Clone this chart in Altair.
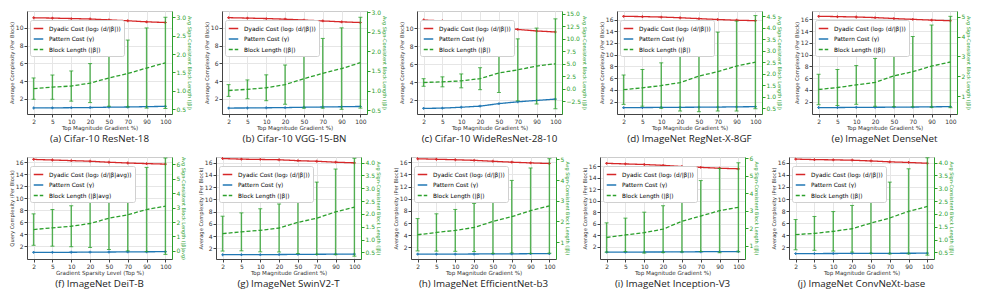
import altair as alt
import pandas as pd

X_LABELS = ["2", "5", "10", "20", "50", "70", "90", "100"]

CAPTIONS = [
    "(a) Cifar-10 ResNet-18", "(b) Cifar-10 VGG-15-BN", "(c) Cifar-10 WideResNet-28-10",
    "(d) ImageNet RegNet-X-8GF", "(e) ImageNet DenseNet", "(f) ImageNet DeiT-B",
    "(g) ImageNet SwinV2-T", "(h) ImageNet EfficientNet-b3", "(i) ImageNet Inception-V3",
    "(j) ImageNet ConvNeXt-base",
]

DYADIC = [
    [11.14, 11.10, 11.05, 11.00, 10.90, 10.80, 10.68, 10.60],
    [11.15, 11.10, 11.05, 10.98, 10.88, 10.78, 10.68, 10.60],
    [10.90, 10.80, 10.66, 10.42, 10.07, 9.86, 9.69, 9.58],
    [16.54, 16.50, 16.42, 16.30, 16.15, 16.00, 15.88, 15.80],
    [16.50, 16.45, 16.38, 16.28, 16.12, 15.98, 15.85, 15.75],
    [16.45, 16.35, 16.25, 16.15, 15.98, 15.85, 15.75, 15.67],
    [16.65, 16.55, 16.50, 16.45, 16.30, 16.20, 16.05, 15.95],
    [16.56, 16.48, 16.40, 16.30, 16.15, 16.00, 15.88, 15.78],
    [16.50, 16.40, 16.30, 16.15, 15.95, 15.80, 15.65, 15.55],
    [16.60, 16.52, 16.48, 16.42, 16.30, 16.15, 16.05, 15.92],
]

PATTERN = [
    [0.97, 0.98, 1.00, 1.02, 1.06, 1.08, 1.12, 1.15],
    [0.97, 0.98, 1.00, 1.02, 1.06, 1.09, 1.12, 1.15],
    [1.12, 1.15, 1.25, 1.37, 1.65, 1.85, 2.00, 2.15],
    [0.98, 1.00, 1.02, 1.04, 1.06, 1.08, 1.12, 1.15],
    [1.00, 1.00, 1.02, 1.04, 1.06, 1.08, 1.12, 1.15],
    [1.00, 1.00, 1.02, 1.04, 1.06, 1.08, 1.10, 1.12],
    [0.95, 0.96, 0.97, 0.98, 1.00, 1.02, 1.04, 1.05],
    [0.90, 0.90, 0.91, 0.92, 0.94, 0.95, 0.97, 0.98],
    [1.10, 1.10, 1.11, 1.12, 1.14, 1.16, 1.18, 1.20],
    [1.00, 1.00, 1.01, 1.02, 1.03, 1.04, 1.05, 1.06],
]

BLOCK = [
    [1.06, 1.10, 1.13, 1.21, 1.35, 1.47, 1.62, 1.76],
    [1.00, 1.03, 1.07, 1.15, 1.30, 1.44, 1.56, 1.71],
    [1.26, 1.39, 1.58, 2.02, 3.16, 3.79, 4.55, 5.00],
    [1.30, 1.38, 1.48, 1.61, 1.89, 2.09, 2.33, 2.50],
    [1.33, 1.43, 1.56, 1.69, 2.02, 2.23, 2.51, 2.72],
    [1.48, 1.60, 1.71, 1.90, 2.27, 2.50, 2.87, 3.10],
    [1.23, 1.30, 1.36, 1.45, 1.67, 1.83, 2.08, 2.26],
    [1.36, 1.47, 1.57, 1.71, 2.00, 2.23, 2.52, 2.75],
    [1.46, 1.61, 1.74, 1.94, 2.39, 2.69, 3.00, 3.19],
    [1.19, 1.24, 1.32, 1.42, 1.64, 1.84, 2.10, 2.29],
]

BLOCK_ERR = [
    [0.29, 0.33, 0.41, 0.53, 0.77, 0.91, 1.09, 1.24],
    [0.15, 0.24, 0.33, 0.50, 0.75, 0.89, 1.04, 1.16],
    [0.76, 1.00, 1.39, 2.20, 3.90, 6.20, 7.60, 9.00],
    [0.64, 0.80, 0.99, 1.24, 1.55, 1.72, 1.96, 2.03],
    [0.77, 0.91, 0.98, 1.21, 1.56, 1.78, 2.08, 2.31],
    [1.09, 1.27, 1.42, 1.66, 2.17, 2.50, 2.92, 3.34],
    [0.68, 0.74, 0.84, 0.94, 1.22, 1.41, 1.67, 1.91],
    [0.78, 0.90, 1.01, 1.16, 1.54, 1.75, 2.06, 2.28],
    [0.84, 0.96, 1.17, 1.34, 1.76, 2.03, 2.41, 2.55],
    [0.59, 0.66, 0.77, 0.91, 1.18, 1.40, 1.66, 1.90],
]

LEFT_DOMAIN = [
    [0.29, 11.9], [0.3, 11.9], [0.5, 11.9], [-0.1, 17.45], [-0.1, 17.4],
    [-0.1, 16.85], [0.25, 16.9], [0.1, 16.85], [-0.1, 17.6], [0.1, 16.95],
]
RIGHT_DOMAIN = [
    [0.37, 3.17], [0.40, 3.03], [-5.05, 15.57], [0.24, 4.73], [0.09, 5.30],
    [-0.56, 6.51], [0.24, 4.22], [0.19, 5.11], [0.23, 6.07], [0.24, 4.22],
]
LEFT_TICKS_CIFAR = [2, 4, 6, 8, 10]
LEFT_TICKS_IMAGENET = [2, 4, 6, 8, 10, 12, 14, 16]
RIGHT_TICKS = [
    [0.5, 1.0, 1.5, 2.0, 2.5, 3.0],
    [0.5, 1.0, 1.5, 2.0, 2.5, 3.0],
    [-2.5, 0.0, 2.5, 5.0, 7.5, 10.0, 12.5, 15.0],
    [0.5, 1.0, 1.5, 2.0, 2.5, 3.0, 3.5, 4.0, 4.5],
    [1, 2, 3, 4, 5],
    [0, 1, 2, 3, 4, 5, 6],
    [0.5, 1.0, 1.5, 2.0, 2.5, 3.0, 3.5, 4.0],
    [1, 2, 3, 4, 5],
    [1, 2, 3, 4, 5, 6],
    [0.5, 1.0, 1.5, 2.0, 2.5, 3.0, 3.5, 4.0],
]
RIGHT_FMT = [".1f", ".1f", ".1f", ".1f", "d", "d", ".1f", "d", "d", ".1f"]

X_TITLE = "Top Magnitude Gradient %)"
X_TITLE_F = "Gradient Sparsity Level (Top %)"
LEFT_TITLE = "Average Complexity (Per Block)"
LEFT_TITLE_F = "Query Complexity (Per Block)"
RIGHT_TITLE = "Avg Sign-Consistent Block Length (|β|)"
RIGHT_TITLE_F = "Avg Sign-Consistent Block Length (|β|avg)"
SERIES = ["Dyadic Cost (log₂ (d/|β|))", "Pattern Cost (γ)", "Block Length (|β|)"]
SERIES_F = ["Dyadic Cost (log₂ (d/|β|avg))", "Pattern Cost (γ)", "Block Length (|β|avg)"]

RED, BLUE, GREEN = "#d62728", "#1f77b4", "#2ca02c"
FONT = "DejaVu Sans"


def panel(i, height):
    names = SERIES_F if i == 5 else SERIES
    rows = []
    for j, xl in enumerate(X_LABELS):
        rows.append({"x": xl, "series": names[0], "v": DYADIC[i][j], "lo": None, "hi": None})
        rows.append({"x": xl, "series": names[1], "v": PATTERN[i][j], "lo": None, "hi": None})
        rows.append({"x": xl, "series": names[2], "v": BLOCK[i][j],
                     "lo": BLOCK[i][j] - BLOCK_ERR[i][j], "hi": BLOCK[i][j] + BLOCK_ERR[i][j]})
    df = pd.DataFrame(rows)

    xenc = alt.X("x:N", sort=X_LABELS,
                 scale=alt.Scale(type="point", padding=0.35),
                 axis=alt.Axis(title=X_TITLE_F if i == 5 else X_TITLE, labelAngle=0,
                               grid=True, gridColor="#e6e6e6", tickSize=3,
                               domainColor="#444", tickColor="#444", labelPadding=1,
                               titlePadding=1))
    leg = alt.Legend(title=None, orient="none", legendX=3, legendY=9,
                     symbolType="stroke", symbolSize=90, symbolStrokeWidth=1.3,
                     labelFontSize=5.8, labelFont=FONT, labelLimit=300, rowPadding=1.5,
                     padding=3, fillColor="white", strokeColor="#d0d0d0",
                     cornerRadius=2, labelOffset=5)
    color = alt.Color("series:N", scale=alt.Scale(domain=names, range=[RED, BLUE, GREEN]), legend=leg)
    dash = alt.StrokeDash("series:N", scale=alt.Scale(domain=names, range=[[1, 0], [1, 0], [4, 2]]), legend=leg)

    lticks = LEFT_TICKS_CIFAR if i < 3 else LEFT_TICKS_IMAGENET
    lscale = alt.Scale(domain=LEFT_DOMAIN[i], nice=False, zero=False)
    laxis = alt.Axis(orient="left", values=lticks, title=LEFT_TITLE_F if i == 5 else LEFT_TITLE,
                     grid=True, gridColor="#e6e6e6", tickSize=3, domainColor="#444",
                     tickColor="#444", labelPadding=1, titlePadding=1)
    rscale = alt.Scale(domain=RIGHT_DOMAIN[i], nice=False, zero=False)
    raxis = alt.Axis(orient="right", values=RIGHT_TICKS[i], format=RIGHT_FMT[i],
                     title=RIGHT_TITLE_F if i == 5 else RIGHT_TITLE, grid=False,
                     tickSize=3, domainColor=GREEN, tickColor=GREEN, labelColor=GREEN,
                     titleColor=GREEN, labelPadding=1, titlePadding=1, titleFontSize=4.9)

    base = alt.Chart(df)
    left_df = base.transform_filter(alt.FieldOneOfPredicate(field="series", oneOf=names[:2]))
    right_df = base.transform_filter(alt.FieldEqualPredicate(field="series", equal=names[2]))

    left_lines = left_df.mark_line(strokeWidth=1.3).encode(
        x=xenc, y=alt.Y("v:Q", scale=lscale, axis=laxis), color=color, strokeDash=dash)
    left_pts = left_df.mark_point(shape="cross", size=8, filled=True, opacity=0.9).encode(
        x=xenc, y=alt.Y("v:Q", scale=lscale, axis=laxis),
        color=alt.Color("series:N", scale=alt.Scale(domain=names, range=[RED, BLUE, GREEN]), legend=None))
    left = alt.layer(left_lines, left_pts)

    rerr = right_df.mark_rule(color=GREEN, strokeWidth=1.4, opacity=0.8).encode(
        x=xenc, y=alt.Y("lo:Q", scale=rscale, axis=raxis), y2="hi:Q")
    rcap_lo = right_df.mark_tick(color=GREEN, size=4, thickness=1, opacity=0.8).encode(
        x=xenc, y=alt.Y("lo:Q", scale=rscale, axis=raxis))
    rcap_hi = right_df.mark_tick(color=GREEN, size=4, thickness=1, opacity=0.8).encode(
        x=xenc, y=alt.Y("hi:Q", scale=rscale, axis=raxis))
    rline = right_df.mark_line(strokeWidth=1.3).encode(
        x=xenc, y=alt.Y("v:Q", scale=rscale, axis=raxis), color=color, strokeDash=dash)
    right = alt.layer(rerr, rcap_lo, rcap_hi, rline)

    return alt.layer(left, right).resolve_scale(y="independent").properties(
        width=145, height=height,
        title=alt.TitleParams(CAPTIONS[i], orient="bottom", fontSize=9.8, font="Open Sans",
                              fontWeight="normal", offset=3, anchor="middle", color="#222"))


def row(idx, height):
    return alt.hconcat(*[panel(i, height) for i in idx], spacing=10).resolve_scale(
        color="independent", strokeDash="independent").resolve_legend(
        color="independent", strokeDash="independent")


chart = alt.vconcat(row(range(5), 103), row(range(5, 10), 102), spacing=10).resolve_scale(
    color="independent", strokeDash="independent").resolve_legend(
    color="independent", strokeDash="independent").properties(
    padding={"left": 0, "top": 0, "right": 0, "bottom": 0}
).configure_axis(
    labelFontSize=6, titleFontSize=5.2, labelFont=FONT, titleFont=FONT,
    titleFontWeight="normal", labelColor="#333", titleColor="#333"
).configure_axisX(titleFontSize=5.6).configure_view(stroke="#cccccc")

chart.save("out.html", embed_options={"renderer": "svg", "actions": False})
